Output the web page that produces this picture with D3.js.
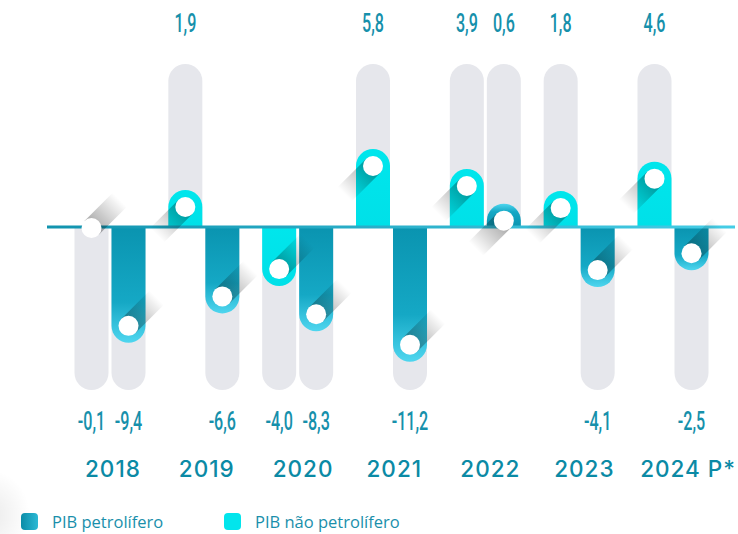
<!DOCTYPE html>
<html>
<head>
<meta charset="utf-8">
<script src="https://cdn.jsdelivr.net/npm/d3@7"></script>
<style>
  body { margin: 0; background: #fff; }
  svg { display: block; }
</style>
</head>
<body>
<div id="chart"></div>
<script>
// data
const years = ['2018', '2019', '2020', '2021', '2022', '2023', '2024 P*'];
const naoPetrolifero = [-0.1, 1.9, -4.0, 5.8, 3.9, 1.8, 4.6];
const petrolifero = [-9.4, -6.6, -8.3, -11.2, 0.6, -4.1, -2.5];
const legendNames = ['PIB petrolífero', 'PIB não petrolífero'];

const width = 738, height = 534;
const barW = 34, gap = 3, dotR = 10;

const svg = d3.select('#chart').append('svg')
    .attr('width', width)
    .attr('height', height);

const defs = svg.append('defs');

// gradients
function linGrad(id, x1, y1, x2, y2, stops) {
    let g = defs.append('linearGradient').attr('id', id)
        .attr('x1', x1).attr('y1', y1).attr('x2', x2).attr('y2', y2);
    stops.forEach(s => g.append('stop').attr('offset', s[0]).attr('stop-color', s[1]));
}
linGrad('darkDown', 0, 0, 0, 1, [[0, '#0a94b0'], [0.65, '#15a8c5'], [1, '#4fd6ef']]);
linGrad('darkUp', 0, 1, 0, 0, [[0, '#0a94b0'], [0.65, '#15a8c5'], [1, '#4fd6ef']]);
linGrad('cyanFill', 0, 0, 0, 1, [[0, '#00e6ec'], [1, '#00e0e8']]);
linGrad('legendDark', 0, 0, 1, 0, [[0, '#0b8ca7'], [1, '#2cb9d5']]);
linGrad('baseLine', 0, 0, 1, 0, [[0, '#1193ae'], [1, '#45cde6']]);
let corner = defs.append('radialGradient').attr('id', 'corner');
corner.append('stop').attr('offset', 0).attr('stop-color', '#000').attr('stop-opacity', 0.08);
corner.append('stop').attr('offset', 1).attr('stop-color', '#000').attr('stop-opacity', 0);

// faint shade in the lower left corner
svg.append('ellipse')
    .attr('cx', -10).attr('cy', 515)
    .attr('rx', 40).attr('ry', 45)
    .style('fill', 'url(#corner)');

// scales
const x = d3.scalePoint()
    .domain(years)
    .range([110, 673]);

const y = d3.scaleLinear()
    .domain([-15.5, 15.5])
    .range([390, 64]);

const fmt = d3.formatLocale({ decimal: ',', thousands: '.', grouping: [3], currency: ['', ''], minus: '-' }).format('.1f');

// one entry per bar, left = não petrolífero, right = petrolífero
let bars = [];
years.forEach((yr, i) => {
    bars.push({ year: yr, value: naoPetrolifero[i], x: x(yr) - barW - gap / 2, kind: 'cyan' });
    bars.push({ year: yr, value: petrolifero[i], x: x(yr) + gap / 2, kind: 'dark' });
});

const y0 = y(0);
const r = barW / 2;

// bar with a round cap at the value end
function barPath(x0, yv, up) {
    let sweep = up ? 1 : 0;
    return 'M' + x0 + ',' + y0 + 'V' + yv + 'A' + r + ',' + r + ' 0 0 ' + sweep + ' ' + (x0 + barW) + ',' + yv + 'V' + y0 + 'Z';
}

// grey tracks
svg.selectAll('path.track')
    .data(bars)
    .enter()
    .append('path')
    .attr('class', 'track')
    .attr('d', d => d.value >= 0 ? barPath(d.x, y(y.domain()[1]) + r, true) : barPath(d.x, y(y.domain()[0]) - r, false))
    .style('fill', '#e6e7ec');

// coloured bars (values that round to zero show only the dot)
svg.selectAll('path.bar')
    .data(bars.filter(d => Math.abs(d.value) >= 0.5))
    .enter()
    .append('path')
    .attr('class', 'bar')
    .attr('d', d => barPath(d.x, y(d.value), d.value >= 0))
    .style('fill', d => d.kind === 'cyan' ? 'url(#cyanFill)' : (d.value >= 0 ? 'url(#darkUp)' : 'url(#darkDown)'));

// zero line
svg.append('rect')
    .attr('x', 47)
    .attr('y', y0 - 1.5)
    .attr('width', width - 47 - 3)
    .attr('height', 3)
    .style('fill', 'url(#baseLine)');

// long shadows behind the dots
const shLen = 40;
bars.forEach((d, i) => {
    let cx = d.x + r, cy = y(d.value);
    let dir = d.value >= 0 ? [-1, 1] : [1, -1];
    let ux = dir[0] / Math.SQRT2, uy = dir[1] / Math.SQRT2;
    let px = -uy * dotR, py = ux * dotR;
    let g = defs.append('linearGradient').attr('id', 'sh' + i)
        .attr('gradientUnits', 'userSpaceOnUse')
        .attr('x1', cx).attr('y1', cy)
        .attr('x2', cx + ux * shLen).attr('y2', cy + uy * shLen);
    g.append('stop').attr('offset', 0).attr('stop-color', '#000').attr('stop-opacity', 0.35);
    g.append('stop').attr('offset', 1).attr('stop-color', '#000').attr('stop-opacity', 0);
    svg.append('polygon')
        .attr('points', [
            [cx + px, cy + py],
            [cx + px + ux * shLen, cy + py + uy * shLen],
            [cx - px + ux * shLen, cy - py + uy * shLen],
            [cx - px, cy - py]
        ].map(p => p.join(',')).join(' '))
        .style('fill', 'url(#sh' + i + ')');
});

// dots
svg.selectAll('circle.dot')
    .data(bars)
    .enter()
    .append('circle')
    .attr('class', 'dot')
    .attr('cx', d => d.x + r)
    .attr('cy', d => y(d.value))
    .attr('r', dotR)
    .style('fill', '#fff');

// value labels, condensed
svg.selectAll('g.val')
    .data(bars)
    .enter()
    .append('g')
    .attr('class', 'val')
    .attr('transform', d => 'translate(' + (d.x + r) + ',' + (d.value >= 0 ? 32 : 430) + ') scale(0.62,1)')
    .append('text')
    .attr('text-anchor', 'middle')
    .style('font-family', 'Roboto, sans-serif')
    .style('font-weight', 500)
    .style('font-size', '26px')
    .style('fill', '#1690ab')
    .text(d => fmt(d.value));

// year labels
svg.selectAll('text.year')
    .data(years)
    .enter()
    .append('text')
    .attr('class', 'year')
    .attr('x', d => x(d) - 25)
    .attr('y', 477)
    .style('font-family', 'Inter, sans-serif')
    .style('font-weight', 500)
    .style('font-size', '22.5px')
    .style('letter-spacing', '1px')
    .style('fill', '#0b8aa5')
    .text(d => d)
    .each(function() {
        // keep the last label inside the page
        let b = this.getBBox();
        if (b.x + b.width > width - 2) {
            d3.select(this).attr('x', +d3.select(this).attr('x') - (b.x + b.width - width + 2));
        }
    });

// legend
const legend = svg.selectAll('g.legend')
    .data(legendNames)
    .enter()
    .append('g')
    .attr('class', 'legend')
    .attr('transform', (d, i) => 'translate(' + (21 + i * 203) + ',513)');

legend.append('rect')
    .attr('width', 17)
    .attr('height', 17)
    .attr('rx', 4)
    .style('fill', (d, i) => i === 0 ? 'url(#legendDark)' : '#02e5ec');

legend.append('text')
    .attr('x', 31)
    .attr('y', 15)
    .style('font-family', '"Open Sans", sans-serif')
    .style('font-weight', 500)
    .style('font-size', '16.5px')
    .style('fill', '#1a8fab')
    .text(d => d);
</script>
</body>
</html>
